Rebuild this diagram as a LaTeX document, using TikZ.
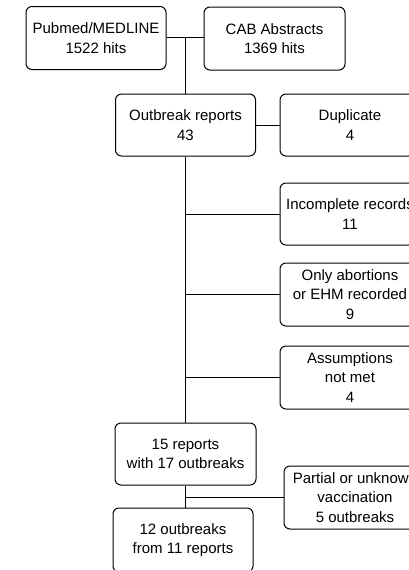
\documentclass[tikz,border=0pt]{standalone}
\usepackage{fontspec}
\setmainfont{Liberation Sans}
\begin{document}
\begin{tikzpicture}[x=1pt,y=-1pt,
  box/.style={draw, rounded corners=6pt, line width=1pt, align=center,
    minimum width=140pt, minimum height=62pt, inner sep=2pt,
    font=\fontsize{15}{19.5}\selectfont},
  link/.style={line width=1pt}]
\useasboundingbox (0,0) rectangle (409,570);
\clip (0,0) rectangle (409,570);
\node[box, minimum height=63pt] (pub) at (96,38) {Pubmed/MEDLINE\\1522 hits};
\node[box, minimum width=141pt, minimum height=63pt] (cab) at (274.5,38.5) {CAB Abstracts\\1369 hits};
\node[box] (out) at (185.5,125) {Outbreak reports\\43};
\node[box] (dup) at (350,125) {Duplicate\\4};
\node[box] (inc) at (350,214) {Incomplete records\\11};
\node[box, minimum height=63pt] (abo) at (350,294.5) {Only abortions\\or EHM recorded\\9};
\node[box, minimum height=63pt] (ass) at (350,377.5) {Assumptions\\not met\\4};
\node[box, minimum width=141pt] (r15) at (185.5,454) {15 reports\\with 17 outbreaks};
\node[box, minimum width=142pt, minimum height=63pt] (par) at (355,497.5) {Partial or unknown\\vaccination\\5 outbreaks};
\node[box, minimum height=64pt] (o12) at (183,540) {12 outbreaks\\from 11 reports};
\coordinate (j0) at (185.5,37);
\draw[link] (pub.east |- j0) -- (cab.west |- j0);
\draw[link] (j0) -- (out.north);
\draw[link] (out.east) -- (dup.west);
\draw[link] (out.south) -- (r15.north);
\draw[link] (out.south |- inc.west) -- (inc.west);
\draw[link] (out.south |- abo.west) -- (abo.west);
\draw[link] (out.south |- ass.west) -- (ass.west);
\draw[link] (r15.south) -- (r15.south |- o12.north);
\draw[link] (r15.south |- par.west) -- (par.west);
\end{tikzpicture}
\end{document}
